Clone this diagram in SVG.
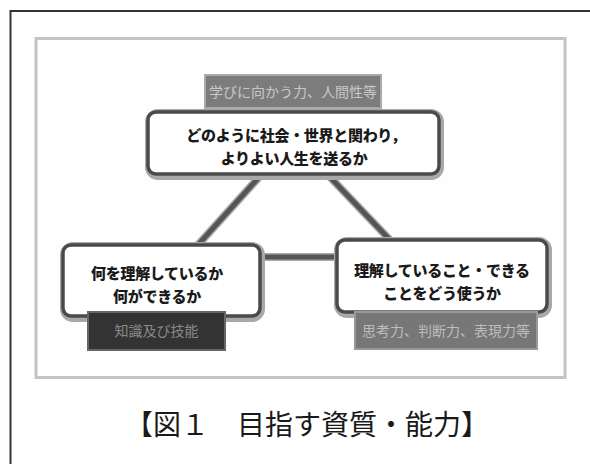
<svg xmlns="http://www.w3.org/2000/svg" width="590" height="464" viewBox="0 0 590 464">
<style>
.box{fill:#fff;stroke:#4a4a4a;stroke-width:3.5}
.shadow{fill:none;stroke:#a8a8a8;stroke-width:8}
.btxt{font-family:"Noto Sans CJK JP","Noto Sans CJK SC",sans-serif;font-weight:900;font-size:15px;fill:#1a1a1a;text-anchor:middle;letter-spacing:-0.3px}
.ltxt{font-family:"Noto Sans CJK JP","Noto Sans CJK SC",sans-serif;font-size:14px;text-anchor:middle}
.conn{stroke:#555;stroke-width:5;fill:none;stroke-linecap:butt}
.connhalo{stroke:#aaa;stroke-width:8;fill:none}
</style>
<rect width="590" height="464" fill="#fff"/>
<path d="M10.5,464 V11 H590" fill="none" stroke="#333" stroke-width="2"/>
<rect x="36" y="38.5" width="529" height="339" fill="#fefefe" stroke="#c4c4c4" stroke-width="3"/>
<g id="connectors">
<line class="connhalo" x1="261" y1="175" x2="197" y2="246"/>
<line class="connhalo" x1="328" y1="175" x2="390" y2="240"/>
<line class="connhalo" x1="260" y1="257" x2="338" y2="257"/>
<line class="conn" x1="261" y1="175" x2="197" y2="246"/>
<line class="conn" x1="328" y1="175" x2="390" y2="240"/>
<line class="conn" x1="260" y1="257" x2="338" y2="257"/>
</g>
<g id="node-top">
<rect x="205" y="75" width="176" height="33" fill="#7c7c7c" stroke="#aaa" stroke-width="2"/>
<text class="ltxt" x="293" y="97" fill="#c8c8c8">学びに向かう力、人間性等</text>
<rect class="shadow" x="149" y="113" width="291" height="63" rx="9"/>
<rect class="box" x="148" y="112" width="291" height="62" rx="8"/>
<text class="btxt" x="296" y="141">どのように社会・世界と関わり，</text>
<text class="btxt" x="294" y="164">よりよい人生を送るか</text>
</g>
<g id="node-left">
<rect class="shadow" x="64" y="246" width="197" height="72" rx="9"/>
<rect class="box" x="63" y="245" width="197" height="71" rx="8"/>
<text class="btxt" x="157" y="279">何を理解しているか</text>
<text class="btxt" x="157" y="302">何ができるか</text>
<rect x="88" y="312" width="137" height="38" fill="#333" stroke="#666" stroke-width="2"/>
<text class="ltxt" x="156.5" y="336" fill="#8a8a8a">知識及び技能</text>
</g>
<g id="node-right">
<rect class="shadow" x="338" y="241" width="210" height="73" rx="9"/>
<rect class="box" x="337" y="240" width="210" height="72" rx="8"/>
<text class="btxt" x="442" y="276">理解していること・できる</text>
<text class="btxt" x="442" y="299">ことをどう使うか</text>
<rect x="355" y="312" width="182" height="37" fill="#777" stroke="#999" stroke-width="2"/>
<text class="ltxt" x="446" y="336" fill="#bdbdbd">思考力、判断力、表現力等</text>
</g>
<text x="125" y="435" font-family="'Noto Sans CJK JP','Noto Sans CJK SC',sans-serif" font-size="28" fill="#1a1a1a">【図１　目指す資質・能力】</text>
</svg>
